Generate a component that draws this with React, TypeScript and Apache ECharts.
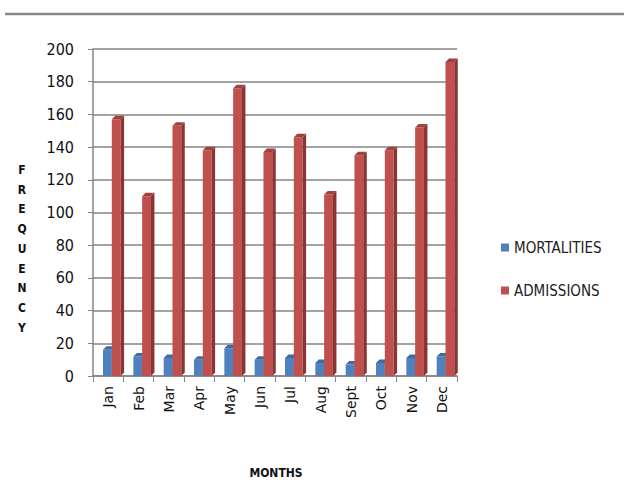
import React, { useEffect, useRef } from "react";
import * as echarts from "echarts";

const months = ["Jan", "Feb", "Mar", "Apr", "May", "Jun", "Jul", "Aug", "Sept", "Oct", "Nov", "Dec"];
const mortalities = [16, 12, 11, 10, 17, 10, 11, 8, 7, 8, 11, 12];
const admissions = [157, 110, 153, 138, 176, 137, 146, 111, 135, 138, 152, 192];
const yTitle = ["F", "R", "E", "Q", "U", "E", "N", "C", "Y"];

const seriesStyles = [
  { name: "MORTALITIES", front: "#4F81BD", side: "#37598A", top: "#3F6CA5" },
  { name: "ADMISSIONS", front: "#C0504D", side: "#8A3533", top: "#A2403D" },
];

function makeRender(k: number) {
  const st = seriesStyles[k];
  return (params: any, api: any) => {
    const idx = api.value(0);
    const v = api.value(1);
    const top = api.coord([idx, v]);
    const base = api.coord([idx, 0]);
    const bw = api.size([1, 0])[0];
    const w = 0.29 * bw;
    const left = top[0] - 0.17 * bw + k * w;
    const d = 3.5;
    return {
      type: "group",
      children: [
        {
          type: "rect",
          shape: { x: left, y: top[1], width: w, height: base[1] - top[1] },
          style: { fill: st.front },
        },
        {
          type: "polygon",
          shape: {
            points: [
              [left + w, top[1]],
              [left + w + d, top[1] - d],
              [left + w + d, base[1] - d],
              [left + w, base[1]],
            ],
          },
          style: { fill: st.side },
        },
        {
          type: "polygon",
          shape: {
            points: [
              [left, top[1]],
              [left + d, top[1] - d],
              [left + w + d, top[1] - d],
              [left + w, top[1]],
            ],
          },
          style: { fill: st.top },
        },
      ],
    };
  };
}

export default function App() {
  const ref = useRef<HTMLDivElement>(null);
  useEffect(() => {
    if (!ref.current) return;
    const chart = echarts.init(ref.current, null, { renderer: "svg" });
    const font = "'Liberation Sans Narrow', 'DejaVu Sans Condensed', sans-serif";
    chart.setOption({
      animation: false,
      backgroundColor: "#ffffff",
      grid: { left: 93, right: 167, top: 49, bottom: 119 },
      legend: {
        orient: "vertical",
        left: 496,
        top: 235,
        itemWidth: 8,
        itemHeight: 8,
        itemGap: 28,
        icon: "rect",
        textStyle: { fontSize: 15, color: "#222", fontFamily: font },
        data: seriesStyles.map((s) => ({ name: s.name, itemStyle: { color: s.front } })),
      },
      xAxis: {
        type: "category",
        data: months,
        axisLine: { show: true, lineStyle: { color: "#868686", width: 1.5 } },
        axisTick: { show: true, length: 6, lineStyle: { color: "#868686" } },
        axisLabel: { rotate: 90, fontSize: 14, color: "#111", margin: 10, fontFamily: "'DejaVu Sans', sans-serif" },
        splitLine: { show: false },
      },
      yAxis: {
        type: "value",
        min: 0,
        max: 200,
        interval: 20,
        axisLine: { show: true, lineStyle: { color: "#868686", width: 1.5 } },
        axisTick: { show: true, length: 5, lineStyle: { color: "#868686" } },
        axisLabel: { fontSize: 16, color: "#111", margin: 19, fontFamily: font },
        splitLine: { show: true, lineStyle: { color: "#858585", width: 1.6 } },
      },
      series: [
        {
          name: "MORTALITIES",
          type: "custom",
          itemStyle: { color: seriesStyles[0].front },
          renderItem: makeRender(0),
          encode: { x: 0, y: 1 },
          data: mortalities.map((v, i) => [i, v]),
        },
        {
          name: "ADMISSIONS",
          type: "custom",
          itemStyle: { color: seriesStyles[1].front },
          renderItem: makeRender(1),
          encode: { x: 0, y: 1 },
          data: admissions.map((v, i) => [i, v]),
        },
      ],
      graphic: [
        {
          type: "line",
          shape: { x1: 5, y1: 14, x2: 624, y2: 14 },
          style: { stroke: "#888888", lineWidth: 2.5 },
        },
        {
          type: "text",
          x: 22,
          y: 160,
          style: {
            text: yTitle.join("\n"),
            fontSize: 12,
            fontWeight: "bold",
            lineHeight: 19.75,
            textAlign: "center",
            fill: "#111",
            fontFamily: font,
          },
        },
        {
          type: "text",
          x: 276,
          y: 473,
          style: {
            text: "MONTHS",
            fontSize: 12,
            fontWeight: "bold",
            textAlign: "center",
            textVerticalAlign: "middle",
            fill: "#111",
            fontFamily: font,
          },
        },
      ],
    });
    return () => chart.dispose();
  }, []);
  return (
    <div
      ref={ref}
      style={{ position: "fixed", left: 0, top: 0, width: 624, height: 495 }}
    />
  );
}
